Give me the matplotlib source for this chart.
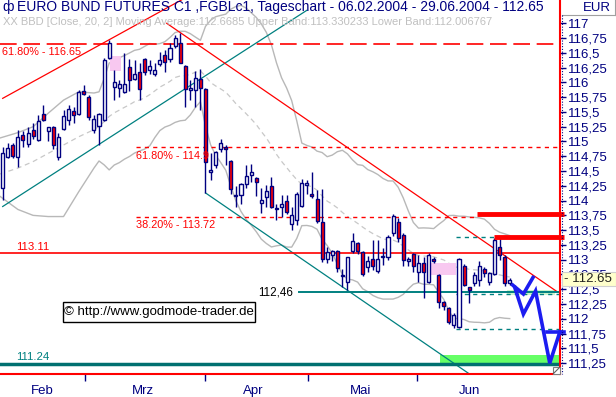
import numpy as np
import pandas as pd
import matplotlib
matplotlib.use("Agg")
import matplotlib.pyplot as plt
from matplotlib.patches import Rectangle
from matplotlib.lines import Line2D

plt.rcParams['font.family'] = ['Liberation Sans', 'DejaVu Sans']

# daily candles 06.02.2004 - 29.06.2004 (trading day index 0..100)
opens = [114.21, 114.74, 114.94, 114.73, 115.11, 114.96, 115.20, 115.03, 115.46, 115.18,
         115.25, 114.73, 115.21, 115.36, 115.52, 115.47, 115.86, 115.76, 115.20, 115.27,
         115.36, 116.42, 115.93, 115.90, 115.83, 116.26, 116.05, 116.17, 116.39, 116.21,
         116.14, 116.31, 116.46, 116.39, 116.61, 116.66, 116.27, 115.87, 115.87, 116.05,
         115.89, 114.49, 114.60, 114.87, 114.91, 114.67, 114.08, 114.09, 114.28, 114.43,
         114.38, 113.96, 114.06, 114.25, 113.86, 113.90, 114.00, 113.60, 113.67, 113.91,
         114.26, 114.12, 114.03, 113.64, 113.02, 113.08, 113.15, 112.72, 112.63, 113.14,
         113.28, 113.13, 112.87, 113.02, 112.81, 113.04, 113.05, 113.45, 113.63, 113.41,
         112.98, 113.10, 112.80, 112.95, 112.63, 113.02, 112.74, 112.29, 112.18, 111.89,
         111.86, 112.89, 112.53, 112.61, 112.66, 112.85, 112.63, 112.76, 113.22, 113.05,
         112.60]
highs = [114.91, 114.97, 114.98, 115.20, 115.17, 115.25, 115.31, 115.45, 115.62, 115.25,
         115.26, 115.14, 115.53, 115.62, 115.59, 115.87, 115.96, 115.79, 115.45, 115.49,
         116.41, 116.72, 116.21, 116.04, 116.49, 116.39, 116.38, 116.32, 116.41, 116.38,
         116.32, 116.52, 116.55, 116.66, 116.80, 116.84, 116.30, 116.04, 116.20, 116.22,
         115.91, 114.80, 114.84, 115.05, 114.94, 114.68, 114.24, 114.30, 114.60, 114.62,
         114.40, 114.21, 114.26, 114.40, 113.95, 114.09, 114.09, 113.90, 114.14, 114.36,
         114.35, 114.49, 114.18, 114.20, 113.22, 113.16, 113.16, 112.85, 113.05, 113.45,
         113.30, 113.14, 113.07, 113.33, 113.33, 113.19, 113.42, 113.78, 113.70, 113.45,
         113.05, 113.12, 113.08, 113.05, 113.11, 113.05, 112.76, 112.30, 112.20, 112.10,
         113.03, 112.92, 112.53, 112.80, 112.97, 112.88, 112.80, 113.36, 113.36, 113.08,
         112.69]
lows = [114.01, 114.72, 114.72, 114.57, 114.91, 114.91, 115.05, 115.00, 115.34, 115.00,
        114.87, 114.69, 115.20, 115.28, 115.31, 115.45, 115.79, 115.36, 115.14, 114.94,
        115.34, 116.40, 115.70, 115.76, 115.82, 115.86, 116.04, 115.70, 116.13, 116.15,
        116.10, 116.27, 116.18, 116.35, 116.58, 116.32, 115.59, 115.70, 115.59, 115.53,
        114.13, 114.35, 114.55, 114.83, 114.60, 114.11, 113.90, 113.95, 114.21, 114.31,
        114.07, 113.79, 113.90, 113.87, 113.67, 113.73, 113.78, 113.51, 113.59, 113.90,
        114.12, 114.05, 113.62, 112.96, 112.94, 112.98, 112.79, 112.54, 112.49, 113.12,
        113.10, 112.72, 112.80, 112.83, 112.78, 112.91, 113.00, 113.40, 113.30, 112.90,
        112.90, 112.80, 112.63, 112.36, 112.60, 112.95, 112.18, 112.15, 111.92, 111.84,
        111.84, 112.55, 112.26, 112.55, 112.55, 112.70, 112.58, 112.74, 113.00, 112.55,
        112.58]
closes = [114.81, 114.89, 114.76, 115.08, 115.03, 115.15, 115.10, 115.35, 115.36, 115.24,
          114.94, 115.08, 115.43, 115.55, 115.45, 115.83, 115.80, 115.41, 115.38, 115.47,
          116.38, 116.67, 116.00, 115.98, 115.97, 116.04, 116.14, 115.88, 116.17, 116.27,
          116.21, 116.38, 116.35, 116.58, 116.75, 116.33, 115.88, 115.90, 116.08, 115.90,
          114.65, 114.51, 114.82, 114.97, 114.87, 114.19, 114.10, 114.28, 114.42, 114.48,
          114.32, 114.01, 114.17, 113.90, 113.88, 113.94, 113.81, 113.75, 114.12, 114.30,
          114.29, 114.07, 113.65, 113.02, 113.13, 113.14, 112.86, 112.74, 113.05, 113.32,
          113.15, 112.75, 112.98, 112.89, 113.01, 113.06, 113.39, 113.74, 113.36, 113.00,
          113.01, 112.90, 112.95, 112.80, 113.08, 112.97, 112.29, 112.21, 111.95, 112.06,
          113.01, 112.57, 112.49, 112.74, 112.89, 112.77, 112.77, 113.33, 113.08, 112.61,
          112.65]

# Bollinger band values before the first full 20-day window
bb_early_idx = [-0.5, 3, 6, 9, 12, 15, 18]
bb_early_upper = [115.06, 115.15, 115.25, 115.48, 115.70, 115.84, 115.82]
bb_early_mid = [114.45, 114.55, 114.66, 114.80, 114.94, 115.08, 115.20]
bb_early_lower = [114.07, 113.85, 113.75, 113.73, 113.73, 114.15, 114.55]

months = ["Feb", "Mrz", "Apr", "Mai", "Jun"]
month_label_pos = [7.75, 27.7, 49.4, 70.5, 92.0]
month_tick_pos = [16.2, 39.9, 60.2, 81.7]

# drawn trend lines (index, price)
up_channel_red = [(0, 115.73), (36, 117.43)]
up_channel_teal = [(0, 113.90), (60, 117.22)]
down_channel_red = [(32.35, 117.0), (109.5, 112.45)]
down_channel_teal = [(40, 114.13), (92, 111.07)]

fib_levels = [116.65, 114.9, 113.72]
fib_labels = ["61.80% - 116.65", "61.80% - 114.9", "38.20% - 113.72"]
res_level = 113.11
sup_level = 112.46
sup2_level = 111.24
last_price = 112.65

scenario_a = [(100.6, 112.57), (102.7, 112.42), (104.6, 112.70)]
scenario_b = [(101.0, 112.53), (102.7, 112.08), (105.1, 112.47), (107.9, 111.25), (109.9, 111.78)]

W, H = 616, 397
NAVY = "#000080"
RED = "#ff0000"
TEAL = "#008080"

fig = plt.figure(figsize=(W / 100, H / 100), dpi=100)
fig.patch.set_facecolor("white")
ax = fig.add_axes([0, 1 - 374.3 / H, 560 / W, 374.3 / H])
ax.set_xlim(-0.53, 109.92)
ax.set_ylim(111.061, 117.394)

for s in ["top", "left"]:
    ax.spines[s].set_visible(False)
for s in ["right", "bottom"]:
    ax.spines[s].set_color(RED)
    ax.spines[s].set_linewidth(1.5)

# bollinger bands
cl = pd.Series(closes)
ma = cl.rolling(20).mean()
sd = cl.rolling(20).std(ddof=0)
idx_late = list(range(19, len(closes)))
up_line = bb_early_upper + list((ma + 2 * sd)[19:])
lo_line = bb_early_lower + list((ma - 2 * sd)[19:])
mid_line = bb_early_mid + list(ma[19:])
xb = bb_early_idx + idx_late
ax.plot(xb, up_line, color="#b8b8b8", lw=1.0, zorder=1)
ax.plot(xb, lo_line, color="#b8b8b8", lw=1.0, zorder=1)
ax.plot(xb, mid_line, color="#c8c8c8", lw=0.9, dashes=(4, 3), zorder=1)

# rectangles
ax.add_patch(Rectangle((21.2, 116.20), 2.1, 0.24, facecolor="#f8c8f0", edgecolor="none", zorder=1))
ax.add_patch(Rectangle((84.5, 112.74), 5.0, 0.20, facecolor="#f8c8f0", edgecolor="none", zorder=1))
ax.add_patch(Rectangle((86.3, sup2_level), 23.7, 0.15, facecolor="#66ff66", edgecolor="none", zorder=1))
ax.add_patch(Rectangle((99.4, 112.40), 9.5, 0.09, facecolor="#ccf5cc", edgecolor="none", zorder=1))

# trend lines
for pts, c in [(up_channel_red, RED), (up_channel_teal, TEAL),
               (down_channel_red, RED), (down_channel_teal, TEAL)]:
    xs, ys = zip(*pts)
    ax.plot(xs, ys, color=c, lw=0.9, zorder=2)

# horizontal levels
ax.axhline(fib_levels[0], color=RED, lw=1.2, dashes=(10, 4), zorder=2)
ax.plot([26.2, 109.92], [fib_levels[1]] * 2, color=RED, lw=1.0, dashes=(3, 3), zorder=2)
ax.plot([26.2, 93.5], [fib_levels[2]] * 2, color=RED, lw=1.0, dashes=(3, 3), zorder=2)
ax.axhline(res_level, color=RED, lw=1.2, zorder=2)
ax.plot([58.4, 109.92], [sup_level] * 2, color=TEAL, lw=1.4, zorder=2)
ax.axhline(sup2_level, color="#007070", lw=2.5, zorder=2)
ax.plot([89.4, 96.9], [113.38] * 2, color=TEAL, lw=1.0, dashes=(3, 3), zorder=2)
ax.plot([89.4, 109.92], [112.42] * 2, color=TEAL, lw=1.0, dashes=(3, 3), zorder=2)
ax.plot([89.4, 109.92], [111.83] * 2, color=TEAL, lw=1.0, dashes=(3, 3), zorder=2)
ax.plot([93.5, 110.7], [113.77] * 2, color=RED, lw=3.5, solid_capstyle="butt", zorder=4, clip_on=False)
ax.plot([96.9, 110.7], [113.38] * 2, color=RED, lw=3.5, solid_capstyle="butt", zorder=4, clip_on=False)

# candles
x = np.arange(len(closes))
o = np.array(opens)
c = np.array(closes)
ax.vlines(x, lows, highs, color=NAVY, lw=1.0, zorder=3)
bottoms = np.minimum(o, c)
heights = np.maximum(np.abs(c - o), 0.004)
colors = ["white" if cc >= oo else RED for oo, cc in zip(o, c)]
ax.bar(x, heights, bottom=bottoms, width=0.6, color=colors, edgecolor=NAVY, lw=1.0, zorder=3)

# scenario paths
for path in [scenario_a, scenario_b]:
    xs, ys = zip(*path)
    ax.plot(xs, ys, color="#1c1cf0", lw=2.6, zorder=5, solid_joinstyle="miter", clip_on=False)
ax.plot([107.3, 110.7], [111.77] * 2, color="#1c1cf0", lw=2.6, zorder=5, clip_on=False)

# level labels
ax.text(-0.2, fib_levels[0] - 0.14, fib_labels[0], color=RED, ha="left", va="center", fontsize=7.8)
ax.text(26.2, fib_levels[1] - 0.14, fib_labels[1], color=RED, ha="left", va="center", fontsize=7.8)
ax.text(26.2, fib_levels[2] - 0.13, fib_labels[2], color=RED, ha="left", va="center", fontsize=7.8)
ax.text(2.6, res_level + 0.1, "113.11", color=RED, ha="left", va="center", fontsize=8.2)
ax.text(57.3, sup_level - 0.02, "112,46", color="black", ha="right", va="center", fontsize=8.4)
ax.text(2.6, sup2_level + 0.12, "111.24", color=TEAL, ha="left", va="center", fontsize=8.2)

# axes ticks
ax.yaxis.tick_right()
yt = np.arange(111.25, 117.01, 0.25)
ax.set_yticks(yt)
ax.set_yticklabels([f"{v:g}".replace(".", ",") for v in yt])
ax.tick_params(axis="y", direction="out", length=4, width=1, color=NAVY, labelcolor=NAVY,
               labelsize=9.5, pad=1.5)
ax.set_xticks(month_label_pos)
ax.set_xticklabels(months)
ax.set_xticks(month_tick_pos, minor=True)
ax.tick_params(axis="x", which="major", length=0, labelcolor=NAVY, labelsize=9.5, pad=8)
ax.tick_params(axis="x", which="minor", length=5, width=1, color=NAVY)


def fx(px):
    return px / W


def fy(py):
    return 1 - py / H


# header
fig.text(fx(2), fy(7.5), "ф", color=NAVY, fontsize=10, va="center", ha="left")
fig.text(fx(17), fy(7.5), "EURO BUND FUTURES C1 ,FGBLc1, Tageschart - 06.02.2004 - 29.06.2004 - 112.65",
         color=NAVY, fontsize=10, va="center", ha="left")
fig.text(fx(3), fy(22), "XX BBD [Close, 20, 2] Moving Average:112.6685 Upper Band:113.330233 Lower Band:112.006767",
         color="#c0c0c0", fontsize=8.0, va="center", ha="left")
fig.text(fx(597), fy(8), "EUR", color=NAVY, fontsize=9.5, va="center", ha="center")
fig.add_artist(Line2D([fx(562), fx(616)], [fy(15), fy(15)], color="#a0a0a0", lw=0.8))
fig.add_artist(Line2D([fx(615), fx(615)], [fy(0), fy(15)], color="#a0a0a0", lw=0.8))
fig.add_artist(Line2D([fx(562), fx(562)], [fy(15), fy(374)], color=NAVY, lw=0.8, dashes=(1, 1.5)))

# last price box
fig.add_artist(Rectangle((fx(562), fy(286)), 54 / W, 14 / H, transform=fig.transFigure,
                         facecolor="#ffffcc", edgecolor="#d0d0d0", lw=0.8, zorder=10))
fig.text(fx(564), fy(279), "- 112.65", color="#202020", fontsize=9.5, va="center", ha="left", zorder=11)

# watermark
fig.add_artist(Rectangle((fx(63), fy(321.7)), 192 / W, 20 / H, transform=fig.transFigure,
                         facecolor="white", edgecolor="black", lw=1.0, zorder=10))
fig.text(fx(159), fy(311.5), "© http://www.godmode-trader.de", color="black", fontsize=9.5,
         va="center", ha="center", zorder=11)

# resize grip
fig.add_artist(Rectangle((fx(553), fy(374)), 7 / W, 7 / H, transform=fig.transFigure,
                         facecolor="white", edgecolor="#808080", lw=0.8, zorder=10))
fig.add_artist(Line2D([fx(553.5), fx(559.5)], [fy(373.5), fy(367.5)], color="#606060", lw=0.8, zorder=11))

fig.savefig("out.png", dpi=100)
